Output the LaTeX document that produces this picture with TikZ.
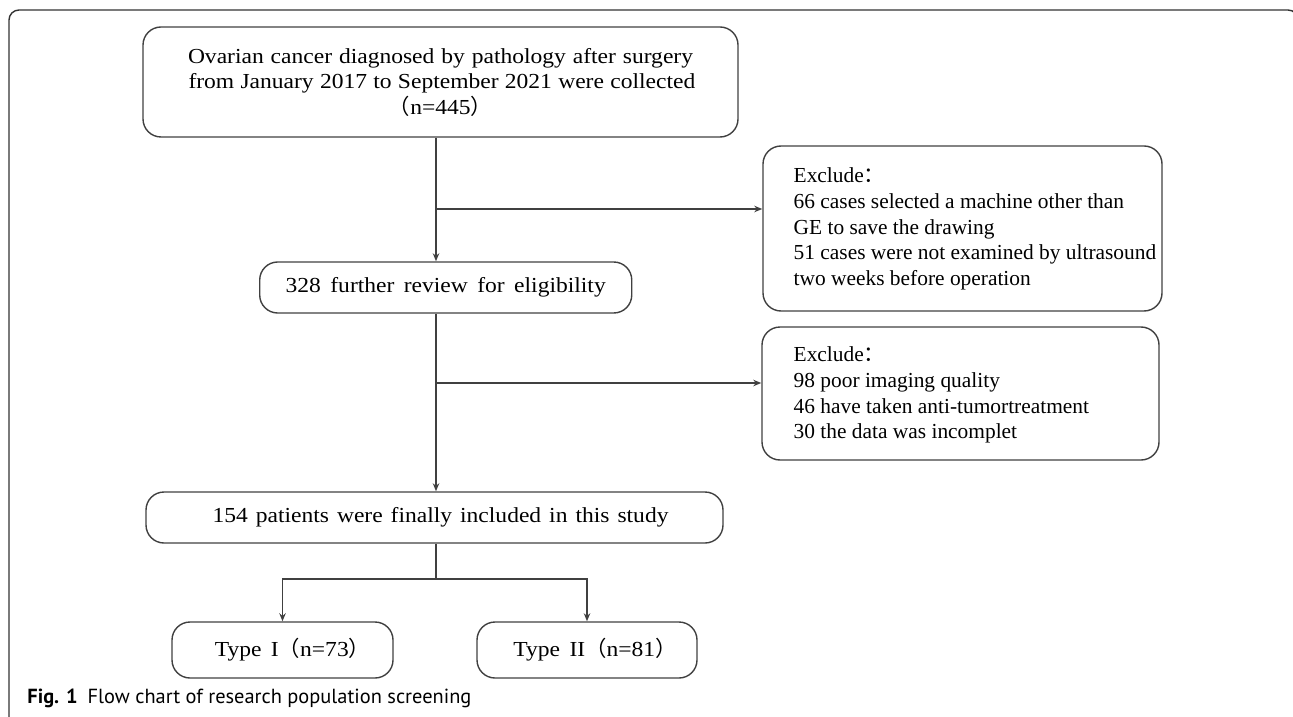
\documentclass[tikz,border=0pt]{standalone}
\usepackage{fontspec}
\setmainfont{Liberation Serif}
\newfontfamily\widefont[FakeStretch=1.1,WordSpace=1.6]{Liberation Serif}
\newfontfamily\capfont{PT Sans}
\newfontfamily\cjk{Noto Sans CJK SC}
\usetikzlibrary{arrows.meta}
\newcommand{\fwlp}{{\cjk （}}
\newcommand{\fwrp}{{\cjk ）}}
\newcommand{\fwcolon}{{\cjk ：}}
\begin{document}
\begin{tikzpicture}[x=0.5pt,y=-0.5pt,
  box/.style={draw=black!75, line width=0.7pt, rounded corners=9pt, inner sep=0pt, align=center,
    font=\widefont\fontsize{10.7}{12.75}\selectfont},
  txt/.style={inner sep=0pt, align=left, anchor=north west, font=\fontsize{10.7}{12.9}\selectfont},
  conn/.style={draw=black!75, line width=0.7pt},
  arr/.style={conn, -{Stealth[length=4pt,width=3.2pt]}}]
\useasboundingbox (0,0) rectangle (1293,716);
% outer frame
\draw[black!80, line width=0.7pt, rounded corners=5pt] (9,720) -- (9,10) -- (1298,10) -- (1298,720);
% nodes
\node[box, minimum width=297.5pt, minimum height=55pt] (top) at (440.5,82)
  {\makebox[252.5pt][s]{Ovarian cancer diagnosed by pathology after surgery}\\
   \makebox[252pt][s]{from January 2017 to September 2021 were collected}\\\fwlp n=445\fwrp};
\node[box, anchor=west, inner xsep=13pt, minimum height=25.5pt] (s328) at (259,287.5) {328 further review for eligibility};
\node[box, minimum width=199.5pt, minimum height=82.5pt] (ex1) at (962.5,228.5) {};
\node[txt] (ex1t) at ([xshift=15.5pt,yshift=-11pt]ex1.north west)
  {Exclude\fwcolon\\66 cases selected a machine other than\\GE to save the drawing\\51 cases were not examined by ultrasound\\two weeks before operation};
\node[box, minimum width=198.5pt, minimum height=66.5pt] (ex2) at (960.5,393.5) {};
\node[txt] (ex2t) at ([xshift=16pt,yshift=-10pt]ex2.north west)
  {Exclude\fwcolon\\98 poor imaging quality\\46 have taken anti-tumortreatment\\30 the data was incomplet};
\node[box, minimum width=288.5pt, minimum height=25.5pt] (s154) at (434.5,517.5)
  {\hspace{6pt}\makebox[228pt][s]{154 patients were finally included in this study}};
\node[box, minimum width=110.5pt, minimum height=28pt] (t1) at (282.5,650) {\hspace{10pt}Type I\fwlp n=73\fwrp};
\node[box, minimum width=110pt, minimum height=28pt] (t2) at (587,650) {\hspace{8pt}Type II\fwlp n=81\fwrp};
% helper coordinates
\coordinate (vx) at (436,0);
\coordinate (b1) at (436,209);
\coordinate (b2) at (436,383);
\coordinate (sp) at (436,579);
% connectors
\draw[arr] (top.south -| vx) -- (s328.north -| vx);
\draw[arr] (b1) -- (ex1.west |- b1);
\draw[arr] (s328.south -| vx) -- (s154.north -| vx);
\draw[arr] (b2) -- (ex2.west |- b2);
\draw[conn] (s154.south -| vx) -- (sp);
\draw[arr] (sp) -| (t1.north);
\draw[arr] (sp) -| (t2.north);
% caption
\node[inner sep=0pt, anchor=base west, font=\capfont\fontsize{10.2}{12}\selectfont] (cap) at (27,703)
  {\textbf{Fig. 1}\hspace{5pt}Flow chart of research population screening};
\end{tikzpicture}
\end{document}
